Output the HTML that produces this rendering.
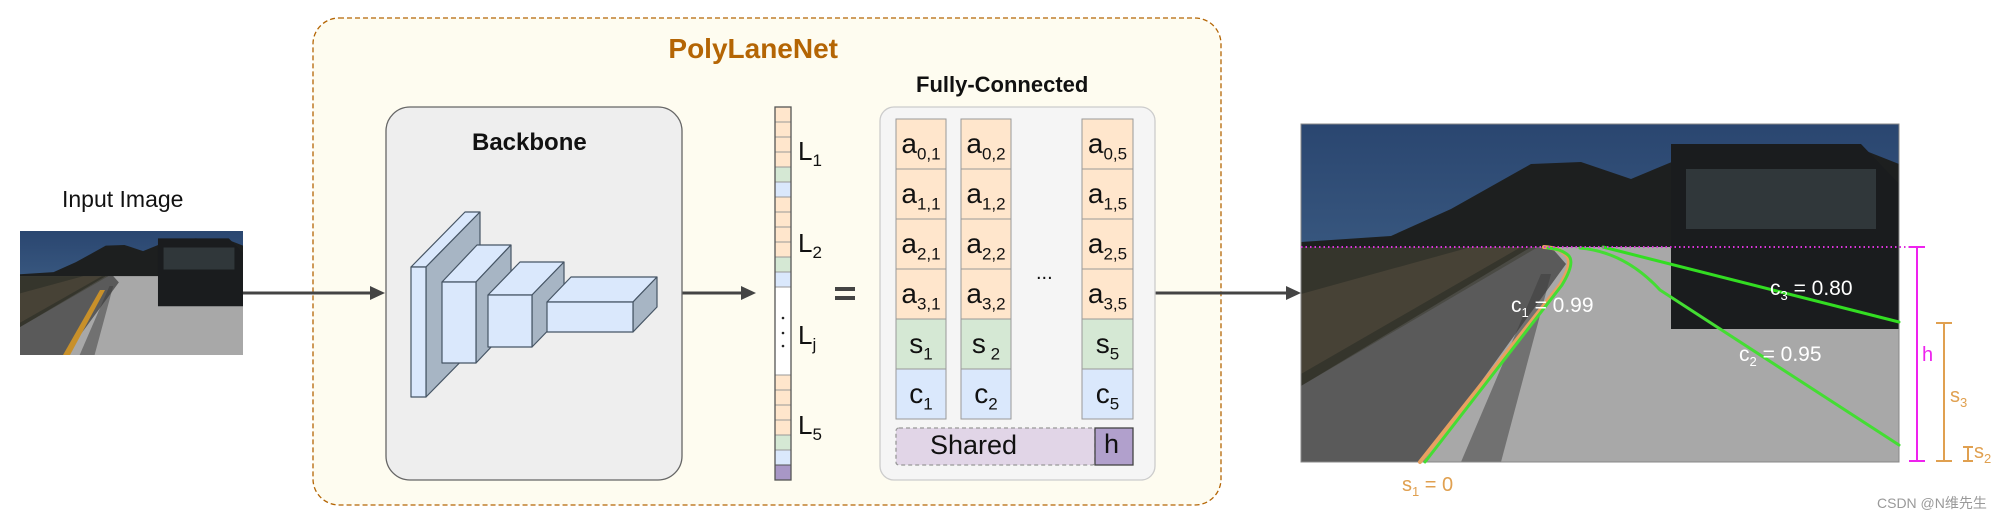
<!DOCTYPE html>
<html><head><meta charset="utf-8"><style>
html,body{margin:0;padding:0;background:#fff;}
body{width:2009px;height:520px;position:relative;overflow:hidden;font-family:"Liberation Sans","Noto Sans CJK SC",sans-serif;}
.t{position:absolute;white-space:nowrap;}
sub{line-height:0;}
.col{position:absolute;top:119px;font-size:28px;color:#111;}
.col div{height:50px;line-height:50px;text-align:center;}
.col sub{font-size:17px;}
</style></head><body>
<svg width="2009" height="520" style="position:absolute;left:0;top:0" xmlns="http://www.w3.org/2000/svg">
<defs>
<linearGradient id="sky" x1="0" y1="0" x2="0" y2="1"><stop offset="0" stop-color="#2a4670"/><stop offset="1" stop-color="#4f7397"/></linearGradient>
<symbol id="road" viewBox="0 0 598 338" preserveAspectRatio="none">
<rect width="598" height="338" fill="url(#sky)"/>
<polygon points="0,118 90,112 150,85 230,40 280,38 330,55 390,30 470,20 560,25 598,40 598,130 0,130" fill="#1d1f1f"/>
<rect x="0" y="123" width="598" height="215" fill="#4a4a44"/>
<polygon points="0,123 230,123 0,262" fill="#35352c"/>
<polygon points="0,170 170,123 220,123 0,250" fill="#5a5040" opacity="0.5"/>
<polygon points="0,262 237,123 250,123 265,140 122,338 0,338" fill="#5a5a5a"/>
<polygon points="250,123 598,123 598,338 122,338 265,140" fill="#a8a8a8"/>
<polygon points="370,20 560,20 598,60 598,205 370,205" fill="#1a1c1e"/>
<rect x="385" y="45" width="190" height="60" fill="#3b4346" opacity="0.7"/>
<polygon points="160,338 200,338 250,150 240,150" fill="#3a3a3a" opacity="0.5"/>
</symbol>
</defs>
<rect x="313" y="18" width="908" height="487" rx="26" fill="#fefcf0" stroke="#b46504" stroke-width="1.3" stroke-dasharray="5,3"/>
<use href="#road" x="20" y="231" width="223" height="124"/>
<polygon points="63,355 100,290 105,290 70,355" fill="#c8902a"/>
<g stroke="#444" stroke-width="3" fill="#444">
<line x1="243" y1="293" x2="373" y2="293"/><polygon points="385,293 370,286 370,300" stroke="none"/>
<line x1="682" y1="293" x2="744" y2="293"/><polygon points="756,293 741,286 741,300" stroke="none"/>
<line x1="1155" y1="293" x2="1289" y2="293"/><polygon points="1301,293 1286,286 1286,300" stroke="none"/>
</g>
<rect x="386" y="107" width="296" height="373" rx="24" fill="#eeeeee" stroke="#666" stroke-width="1.3"/>
<g stroke="#465565" stroke-width="1.2" stroke-linejoin="round">
<polygon points="411,267 426,267 480,212 465,212" fill="#dae8fc"/>
<polygon points="426,267 480,212 480,342 426,397" fill="#a7b5c4"/>
<rect x="411" y="267" width="15" height="130" fill="#dae8fc"/>
<polygon points="442,282 476,282 511,245 477,245" fill="#dae8fc"/>
<polygon points="476,282 511,245 511,326 476,363" fill="#a7b5c4"/>
<rect x="442" y="282" width="34" height="81" fill="#dae8fc"/>
<polygon points="488,295 532,295 564,262 520,262" fill="#dae8fc"/>
<polygon points="532,295 564,262 564,314 532,347" fill="#a7b5c4"/>
<rect x="488" y="295" width="44" height="52" fill="#dae8fc"/>
<polygon points="547,302 633,302 657,277 571,277" fill="#dae8fc"/>
<polygon points="633,302 657,277 657,307 633,332" fill="#a7b5c4"/>
<rect x="547" y="302" width="86" height="30" fill="#dae8fc"/>
</g>
<g stroke="#999" stroke-width="1">
<rect x="775" y="107" width="16" height="15" fill="#ffe6cc"/><rect x="775" y="122" width="16" height="15" fill="#ffe6cc"/><rect x="775" y="137" width="16" height="15" fill="#ffe6cc"/><rect x="775" y="152" width="16" height="15" fill="#ffe6cc"/>
<rect x="775" y="167" width="16" height="15" fill="#d5e8d4"/><rect x="775" y="182" width="16" height="15" fill="#dae8fc"/>
<rect x="775" y="197" width="16" height="15" fill="#ffe6cc"/><rect x="775" y="212" width="16" height="15" fill="#ffe6cc"/><rect x="775" y="227" width="16" height="15" fill="#ffe6cc"/><rect x="775" y="242" width="16" height="15" fill="#ffe6cc"/>
<rect x="775" y="257" width="16" height="15" fill="#d5e8d4"/><rect x="775" y="272" width="16" height="15" fill="#dae8fc"/>
<rect x="775" y="287" width="16" height="88" fill="#ffffff"/>
<rect x="775" y="375" width="16" height="15" fill="#ffe6cc"/><rect x="775" y="390" width="16" height="15" fill="#ffe6cc"/><rect x="775" y="405" width="16" height="15" fill="#ffe6cc"/><rect x="775" y="420" width="16" height="15" fill="#ffe6cc"/>
<rect x="775" y="435" width="16" height="15" fill="#d5e8d4"/><rect x="775" y="450" width="16" height="15" fill="#dae8fc"/>
<rect x="775" y="465" width="16" height="15" fill="#a897c6" stroke="#555"/>
</g>
<rect x="775" y="107" width="16" height="373" fill="none" stroke="#555" stroke-width="1.3"/>
<g fill="#222"><circle cx="783" cy="318" r="1.3"/><circle cx="783" cy="333" r="1.3"/><circle cx="783" cy="346" r="1.3"/></g>
<rect x="835" y="287" width="20" height="4" fill="#444"/><rect x="835" y="296" width="20" height="4" fill="#444"/>
<rect x="880" y="107" width="275" height="373" rx="14" fill="#f5f5f5" stroke="#ccc" stroke-width="1.3"/>
<g stroke="#999" stroke-width="1">
<rect x="896" y="119" width="50" height="50" fill="#ffe6cc"/><rect x="896" y="169" width="50" height="50" fill="#ffe6cc"/><rect x="896" y="219" width="50" height="50" fill="#ffe6cc"/><rect x="896" y="269" width="50" height="50" fill="#ffe6cc"/><rect x="896" y="319" width="50" height="50" fill="#d5e8d4"/><rect x="896" y="369" width="50" height="50" fill="#dae8fc"/>
<rect x="961" y="119" width="50" height="50" fill="#ffe6cc"/><rect x="961" y="169" width="50" height="50" fill="#ffe6cc"/><rect x="961" y="219" width="50" height="50" fill="#ffe6cc"/><rect x="961" y="269" width="50" height="50" fill="#ffe6cc"/><rect x="961" y="319" width="50" height="50" fill="#d5e8d4"/><rect x="961" y="369" width="50" height="50" fill="#dae8fc"/>
<rect x="1082" y="119" width="51" height="50" fill="#ffe6cc"/><rect x="1082" y="169" width="51" height="50" fill="#ffe6cc"/><rect x="1082" y="219" width="51" height="50" fill="#ffe6cc"/><rect x="1082" y="269" width="51" height="50" fill="#ffe6cc"/><rect x="1082" y="319" width="51" height="50" fill="#d5e8d4"/><rect x="1082" y="369" width="51" height="50" fill="#dae8fc"/>
</g>
<rect x="896" y="428" width="199" height="37" rx="3" fill="#e1d5e7" stroke="#999" stroke-dasharray="4,3" stroke-width="1.3"/>
<rect x="1095" y="428" width="38" height="37" fill="#b1a0cc" stroke="#444" stroke-width="1.3"/>
<use href="#road" x="1301" y="124" width="598" height="338"/>
<rect x="1301" y="124" width="598" height="338" fill="none" stroke="#888" stroke-width="1"/>
<g fill="none" stroke-linecap="round">
<path d="M1420,462 L1560,285 Q1574,262 1566,255 Q1560,248 1544,247" stroke="#e8a060" stroke-width="4"/>
<path d="M1425,462 L1562,285 Q1576,262 1568,255 Q1561,249 1548,248" stroke="#44dd33" stroke-width="3"/>
<path d="M1580,248 Q1625,252 1660,290 L1899,445" stroke="#44dd33" stroke-width="3"/>
<path d="M1603,247 L1899,322" stroke="#33dd22" stroke-width="3"/>
</g>
<line x1="1301" y1="247" x2="1910" y2="247" stroke="#dd33dd" stroke-width="2" stroke-dasharray="1.5,3"/>
<g stroke="#ee22ee" stroke-width="2"><line x1="1917" y1="247" x2="1917" y2="461"/><line x1="1909" y1="247" x2="1925" y2="247"/><line x1="1909" y1="461" x2="1925" y2="461"/></g>
<g stroke="#e0a050" stroke-width="2"><line x1="1944" y1="323" x2="1944" y2="461"/><line x1="1936" y1="323" x2="1952" y2="323"/><line x1="1936" y1="461" x2="1952" y2="461"/>
<line x1="1968" y1="447" x2="1968" y2="461"/><line x1="1963" y1="447" x2="1973" y2="447"/><line x1="1963" y1="461" x2="1973" y2="461"/></g>
</svg>
<div class="t" style="left:0;width:766px;text-align:right;top:33px;font-size:28px;font-weight:bold;color:#b46504;transform:translateX(72px)">PolyLaneNet</div>
<div class="t" style="left:62px;top:186px;font-size:23px;color:#111">Input Image</div>
<div class="t" style="left:472px;top:129px;font-size:24px;font-weight:bold;color:#111">Backbone</div>
<div class="t" style="left:916px;top:72px;font-size:22px;font-weight:bold;color:#111">Fully-Connected</div>
<div class="t" style="left:798px;top:136px;font-size:26px;color:#111">L<sub style="font-size:17px">1</sub></div>
<div class="t" style="left:798px;top:228px;font-size:26px;color:#111">L<sub style="font-size:17px">2</sub></div>
<div class="t" style="left:798px;top:320px;font-size:26px;color:#111">L<sub style="font-size:17px">j</sub></div>
<div class="t" style="left:798px;top:410px;font-size:26px;color:#111">L<sub style="font-size:17px">5</sub></div>
<div class="col" style="left:896px;width:50px">
<div>a<sub>0,1</sub></div><div>a<sub>1,1</sub></div><div>a<sub>2,1</sub></div><div>a<sub>3,1</sub></div><div>s<sub>1</sub></div><div>c<sub>1</sub></div></div>
<div class="col" style="left:961px;width:50px">
<div>a<sub>0,2</sub></div><div>a<sub>1,2</sub></div><div>a<sub>2,2</sub></div><div>a<sub>3,2</sub></div><div>s<sub> 2</sub></div><div>c<sub>2</sub></div></div>
<div class="col" style="left:1082px;width:51px">
<div>a<sub>0,5</sub></div><div>a<sub>1,5</sub></div><div>a<sub>2,5</sub></div><div>a<sub>3,5</sub></div><div>s<sub>5</sub></div><div>c<sub>5</sub></div></div>
<div class="t" style="left:1036px;top:262px;font-size:20px;color:#111">...</div>
<div class="t" style="left:930px;top:430px;font-size:27px;color:#111">Shared</div>
<div class="t" style="left:1104px;top:429px;font-size:27px;color:#111">h</div>
<div class="t" style="left:1511px;top:294px;font-size:21px;color:#fff">c<sub style="font-size:13px">1</sub> = 0.99</div>
<div class="t" style="left:1770px;top:277px;font-size:21px;color:#fff">c<sub style="font-size:13px">3</sub> = 0.80</div>
<div class="t" style="left:1739px;top:343px;font-size:21px;color:#fff">c<sub style="font-size:13px">2</sub> = 0.95</div>
<div class="t" style="left:1922px;top:344px;font-size:20px;color:#ee22ee">h</div>
<div class="t" style="left:1950px;top:385px;font-size:20px;color:#e0a050">s<sub style="font-size:13px">3</sub></div>
<div class="t" style="left:1974px;top:441px;font-size:20px;color:#e0a050">s<sub style="font-size:13px">2</sub></div>
<div class="t" style="left:1402px;top:474px;font-size:20px;color:#e0a050">s<sub style="font-size:13px">1</sub> = 0</div>
<div class="t" style="left:1877px;top:493px;font-size:14px;color:#999">CSDN @N维先生</div>
</body></html>
